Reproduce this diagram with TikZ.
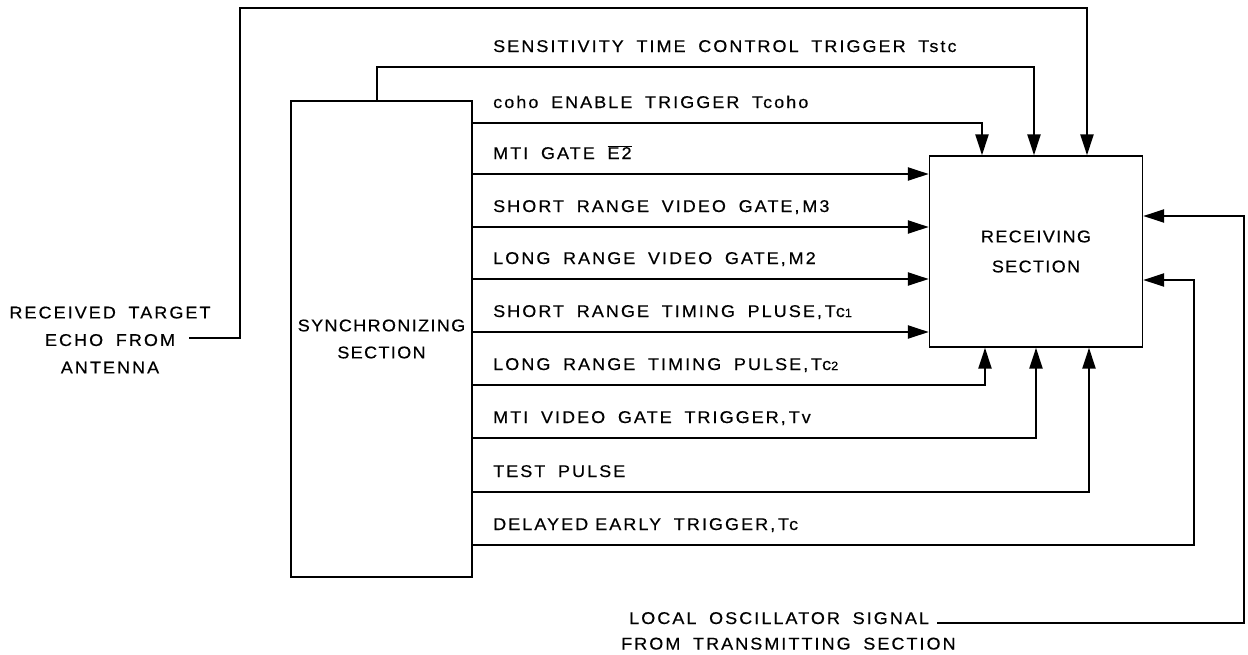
\documentclass[tikz,border=0pt]{standalone}
\usepackage{fontspec}
\setmainfont{Liberation Sans}[LetterSpace=12, WordSpace=1.8, FakeStretch=1.06, FakeBold=0.4]
\newfontfamily\boxfont{Liberation Sans}[LetterSpace=8, WordSpace=1.8, FakeStretch=1.06, FakeBold=0.4]
\usetikzlibrary{arrows.meta}
\newcommand{\smdig}[1]{{\fontsize{12}{12}\selectfont #1}}
\begin{document}
\begin{tikzpicture}[x=1pt,y=-1pt,
  every node/.style={font=\fontsize{17}{20}\selectfont, inner sep=0pt},
  box/.style={draw, line width=1.4pt, align=center},
  conn/.style={line width=2.3pt},
  arr/.style={-{Triangle[length=21pt,width=13pt]}},
  lbl/.style={anchor=base west}]
\useasboundingbox (0,0) rectangle (1248,654);
% boxes
\node[box, minimum width=181pt, minimum height=476pt, font=\boxfont\fontsize{17}{27}\selectfont] (sync) at (381.5,339) {SYNCHRONIZING\\SECTION};
\node[box, minimum width=213pt, minimum height=191pt, font=\boxfont\fontsize{17}{30}\selectfont] (recv) at (1036,251.5) {RECEIVING\\SECTION};
% outside texts
\node[align=center, font=\fontsize{17}{27.5}\selectfont] (echo) at (110,340) {RECEIVED TARGET\\ECHO FROM\\ANTENNA};
\coordinate (echoin) at (189,338);
\node[lbl] (lo1) at (629,624) {LOCAL OSCILLATOR SIGNAL};
\node[lbl] (lo2) at (621,649.5) {FROM TRANSMITTING SECTION};
\coordinate (loin) at (937,623);
% signal labels
\node[lbl] (tstc) at (493,52) {SENSITIVITY TIME CONTROL TRIGGER Tstc};
\node[lbl] (coho) at (493,108) {coho ENABLE TRIGGER Tcoho};
\node[lbl] (mti) at (493,159) {MTI GATE $\overline{\hbox{E2}}$};
\node[lbl] (srvg) at (493,212) {SHORT RANGE VIDEO GATE,\,M3};
\node[lbl] (lrvg) at (493,264) {LONG RANGE VIDEO GATE,\,M2};
\node[lbl] (srtp) at (493,317) {SHORT RANGE TIMING PLUSE,\,Tc\smdig{1}};
\node[lbl] (lrtp) at (493,370) {LONG RANGE TIMING PULSE,\,Tc\smdig{2}};
\node[lbl] (mtiv) at (493,423) {MTI VIDEO GATE TRIGGER,\,Tv};
\node[lbl] (test) at (493,477) {TEST PULSE};
\node[lbl] (dly) at (493,530) {DELAYED\hspace{7pt}EARLY TRIGGER,\,Tc};
% connectors
\draw[conn,arr] (echoin) -| (240,8) -| (recv.north -| 1087,0);
\draw[conn,arr] (sync.north -| 377,0) |- (1034,67) -- (recv.north -| 1034,0);
\draw[conn,arr] (sync.east |- 0,123) -| (recv.north -| 982,0);
\draw[conn,arr] (sync.east |- 0,174) -- (recv.west |- 0,174);
\draw[conn,arr] (sync.east |- 0,227) -- (recv.west |- 0,227);
\draw[conn,arr] (sync.east |- 0,279) -- (recv.west |- 0,279);
\draw[conn,arr] (sync.east |- 0,332) -- (recv.west |- 0,332);
\draw[conn,arr] (sync.east |- 0,385) -| (recv.south -| 985,0);
\draw[conn,arr] (sync.east |- 0,438) -| (recv.south -| 1036,0);
\draw[conn,arr] (sync.east |- 0,492) -| (recv.south -| 1089,0);
\draw[conn,arr] (sync.east |- 0,545) -| (1194,280) -- (recv.east |- 0,280);
\draw[conn,arr] (loin) -| (1244,216) -- (recv.east |- 0,216);
\end{tikzpicture}
\end{document}
